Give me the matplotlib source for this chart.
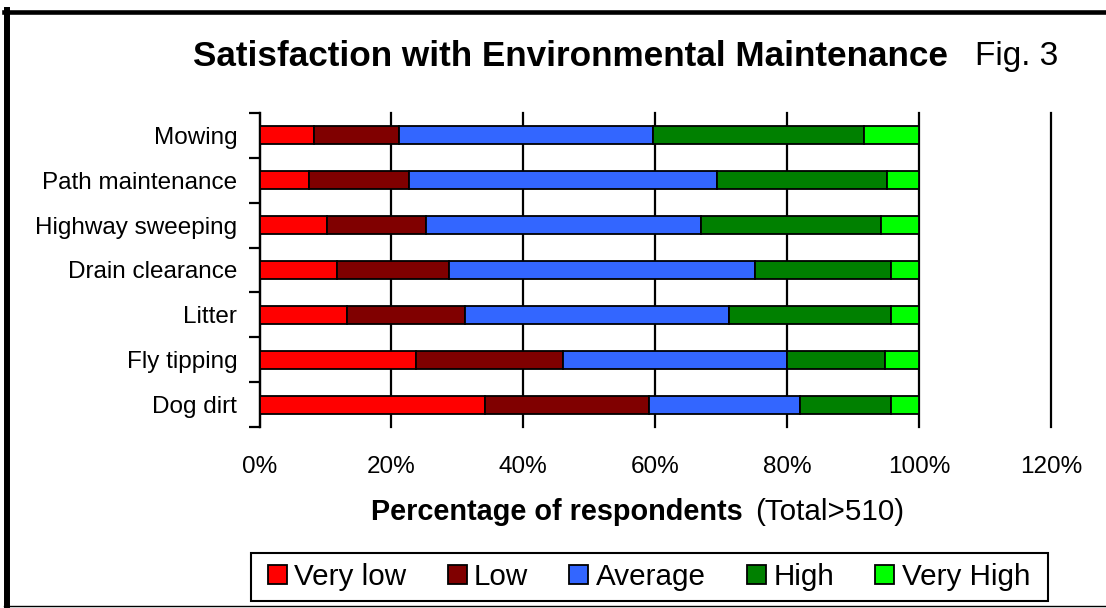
import matplotlib
matplotlib.use("Agg")
import matplotlib.pyplot as plt
from matplotlib.patches import Patch, Rectangle
from matplotlib.lines import Line2D
import numpy as np

categories = ["Mowing", "Path maintenance", "Highway sweeping", "Drain clearance",
              "Litter", "Fly tipping", "Dog dirt"]
very_low  = [8.2, 7.5, 10.3, 11.8, 13.3, 23.8, 34.2]
low       = [13.0, 15.2, 14.9, 17.0, 17.9, 22.2, 24.9]
average   = [38.5, 46.7, 41.7, 46.3, 40.0, 33.9, 22.9]
high      = [31.9, 25.8, 27.4, 20.6, 24.5, 15.0, 13.7]
very_high = [8.4, 4.8, 5.7, 4.3, 4.3, 5.1, 4.3]

series_names = ["Very low", "Low", "Average", "High", "Very High"]
series_colors = ["#FF0000", "#800000", "#3366FF", "#008000", "#00FF00"]
x_ticks = [0, 20, 40, 60, 80, 100, 120]
x_tick_labels = ["0%", "20%", "40%", "60%", "80%", "100%", "120%"]

W, H = 1106, 608
fig = plt.figure(figsize=(W / 100, H / 100), dpi=100)
fig.patch.set_facecolor("white")
FONT = "Liberation Sans"

def px(x, y):
    return x / W, 1 - y / H

# axes: x 259.5 -> 1051, y 113 -> 427
ax = fig.add_axes([259.5 / W, 1 - 427 / H, (1051 - 259.5) / W, (427 - 113) / H])

ypos = np.arange(len(categories))
left = np.zeros(len(categories))
for vals, name, col in zip([very_low, low, average, high, very_high], series_names, series_colors):
    ax.barh(ypos, vals, left=left, height=0.4, color=col, edgecolor="black",
            linewidth=1.3, label=name, zorder=3)
    left = left + np.array(vals)

ax.set_xlim(0, 120)
ax.set_ylim(len(categories) - 0.5, -0.5)
ax.set_xticks(x_ticks)
ax.set_xticklabels(x_tick_labels, fontfamily=FONT, fontsize=17.5)
ax.tick_params(axis="x", length=0, pad=21)
ax.xaxis.grid(True, color="black", linewidth=1.6, zorder=0)
for gl in ax.get_xgridlines():
    gl.set_clip_on(False)
ax.set_axisbelow(True)

ax.set_yticks(ypos)
ax.set_yticklabels(categories, fontfamily=FONT, fontsize=17.5)
ax.set_yticks(np.arange(-0.5, len(categories), 1.0), minor=True)
ax.tick_params(axis="y", which="major", length=0, pad=16)
ax.tick_params(axis="y", which="minor", length=8, width=1.6, direction="out", color="black")

for s in ["top", "bottom", "right"]:
    ax.spines[s].set_visible(False)
ax.spines["left"].set_color("black")
ax.spines["left"].set_linewidth(1.6)

# title
fig.text(*px(193, 57), "Satisfaction with Environmental Maintenance", ha="left", va="center",
         fontfamily=FONT, fontweight="bold", fontsize=25.3)
fig.text(*px(975, 57), "Fig. 3", ha="left", va="center", fontfamily=FONT, fontsize=24)

# axis label
fig.text(*px(743, 512), "Percentage of respondents", ha="right", va="center",
         fontfamily=FONT, fontweight="bold", fontsize=20.8)
fig.text(*px(755, 512), "(Total>510)", ha="left", va="center", fontfamily=FONT, fontsize=21.3)

# legend box
bx0, by0 = px(251, 601)
bx1, by1 = px(1048, 553)
fig.add_artist(Rectangle((bx0, by0), bx1 - bx0, by1 - by0, transform=fig.transFigure,
                         facecolor="white", edgecolor="black", linewidth=1.5, zorder=1))
handles = [Patch(facecolor=c, edgecolor="black", linewidth=1.3) for c in series_colors]
lx0, _ = px(268, 0)
lx1, _ = px(1030, 0)
leg = fig.legend(handles, series_names, loc="center", ncol=5, mode="expand",
                 bbox_to_anchor=(lx0, by0, lx1 - lx0, by1 - by0), borderaxespad=0,
                 frameon=False, prop={"family": FONT, "size": 21.3},
                 handlelength=0.64, handleheight=0.62,
                 handletextpad=0.25, borderpad=0.0, columnspacing=1.0)
leg.set_zorder(2)

# outer frame
fig.add_artist(Line2D([4 / W, 1], [1 - 12 / H, 1 - 12 / H], color="black", linewidth=3.3,
                      transform=fig.transFigure))
fig.add_artist(Line2D([7 / W, 7 / W], [1 - 607 / H, 1 - 10 / H], color="black", linewidth=4.3,
                      transform=fig.transFigure))
fig.add_artist(Line2D([4 / W, 1], [1 - 606 / H, 1 - 606 / H], color="black", linewidth=1.0,
                      transform=fig.transFigure))

fig.savefig("out.png", dpi=100, facecolor="white")
